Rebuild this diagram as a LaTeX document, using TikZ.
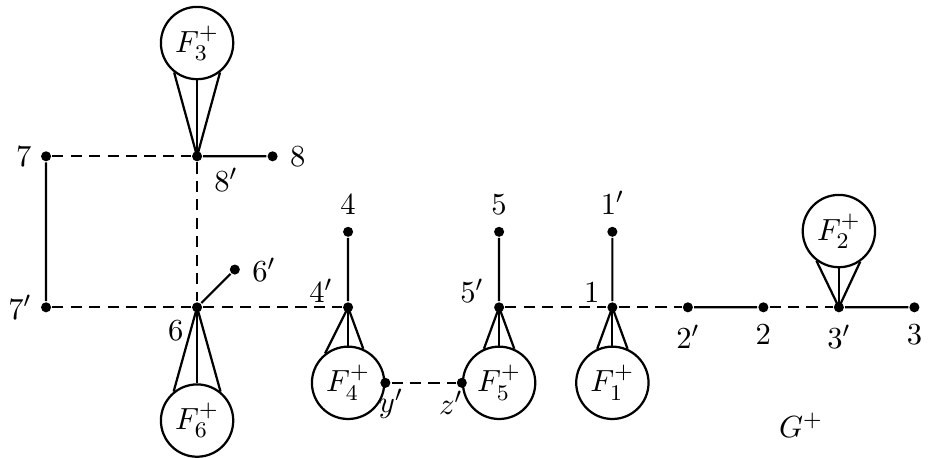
\documentclass[tikz,border=0pt,11pt]{standalone}

\begin{document}
\begin{tikzpicture}[x=0.95cm,y=0.95cm,thick,
  pt/.style={circle,fill,inner sep=0pt,minimum size=3.6pt},
  fam/.style={circle,draw,inner sep=0pt,minimum size=9.1mm},
  dsh/.style={dash pattern=on 4pt off 2.6pt}]
  \useasboundingbox (-2.61,-1.99) rectangle (9.68,4.07);

  % vertices
  \node[pt,label={[label distance=-1pt]left:$7$}] (v7) at (-2,2) {};
  \node[pt,label={[label distance=-2pt,xshift=2pt]below right:$8'$}] (v8p) at (0,2) {};
  \node[pt,label=right:$8$] (v8) at (1,2) {};
  \node[pt,label={[label distance=-1pt]left:$7'$}] (v7p) at (-2,0) {};
  \node[pt,label={[label distance=-1pt]below left:$6$}] (v6) at (0,0) {};
  \node[pt,label=right:$6'$] (v6p) at (0.5,0.5) {};
  \node[pt,label=above:$4$] (v4) at (2,1) {};
  \node[pt,label={[yshift=-4pt]above left:$4'$}] (v4p) at (2,0) {};
  \node[pt,label=above:$5$] (v5) at (4,1) {};
  \node[pt,label={[yshift=-4pt]above left:$5'$}] (v5p) at (4,0) {};
  \node[pt,label=above:$1'$] (v1p) at (5.5,1) {};
  \node[pt,label={[yshift=-4pt,xshift=1pt]above left:$1$}] (v1) at (5.5,0) {};
  \node[pt,label=below:$2'$] (v2p) at (6.5,0) {};
  \node[pt,label=below:$2$] (v2) at (7.5,0) {};
  \node[pt,label=below:$3'$] (v3p) at (8.5,0) {};
  \node[pt,label=below:$3$] (v3) at (9.5,0) {};

  % the pieces F_i^+
  \node[fam] (F3) at (0,3.5) {$F_3^+$};
  \node[fam] (F6) at (0,-1.5) {$F_6^+$};
  \node[fam] (F4) at (2,-1) {$F_4^+$};
  \node[fam] (F5) at (4,-1) {$F_5^+$};
  \node[fam] (F1) at (5.5,-1) {$F_1^+$};
  \node[fam] (F2) at (8.5,1.01) {$F_2^+$};
  \node[pt,label={[xshift=2pt,label distance=-4pt]below:$y'$}] (vy) at (F4.east) {};
  \node[pt,label={[label distance=-4pt,xshift=3pt]below left:$z'$}] (vz) at (F5.west) {};
  \node (G) at (8,-1.56) {$G^+$};

  \draw[dsh] (v7) -- (v8p) (v8p) -- (v6) (v7p) -- (v6) -- (v4p)
    (v5p) -- (v1) -- (v2p) (v2) -- (v3p) (vy) -- (vz);
  \draw (v8p) -- (v8) (v7) -- (v7p) (v6) -- (v6p) (v4) -- (v4p)
    (v5) -- (v5p) (v1p) -- (v1) (v2p) -- (v2) (v3p) -- (v3);

  \foreach \a in {232,270,308} \draw (v8p.center) -- (F3.\a);
  \foreach \a in {129,90,51} \draw (v6.center) -- (F6.\a);
  \foreach \a in {128,90,66} \draw (v4p.center) -- (F4.\a);
  \foreach \a in {114,90,66} {
    \draw (v5p.center) -- (F5.\a);
    \draw (v1.center) -- (F1.\a);
  }
  \foreach \a in {233,270,305} \draw (v3p.center) -- (F2.\a);
\end{tikzpicture}
\end{document}
